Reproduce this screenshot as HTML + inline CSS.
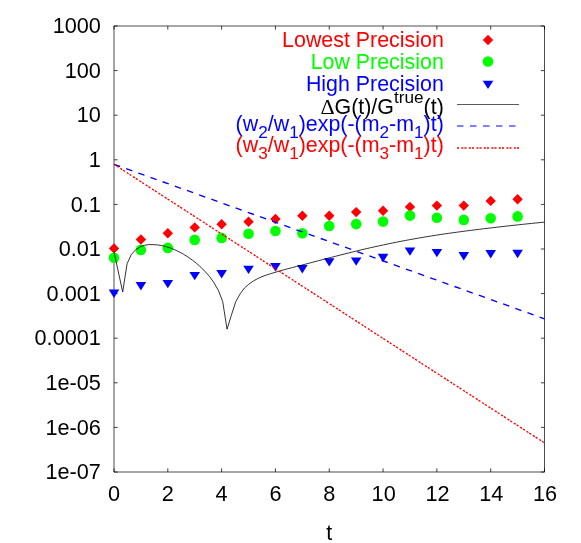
<!DOCTYPE html>
<html><head><meta charset="utf-8"><title>plot</title>
<style>
html,body{margin:0;padding:0;background:#fff;}
body{width:581px;height:543px;overflow:hidden;}
svg{display:block;will-change:transform;}
text{font-family:"Liberation Sans",sans-serif;font-size:21.4px;}
.sub{font-size:17.2px;}
.tk{font-size:21.7px;}
.sym{font-family:"Liberation Serif",serif;}
</style></head><body>
<svg width="581" height="543" viewBox="0 0 581 543">
<rect x="0" y="0" width="581" height="543" fill="#ffffff"/>

<g stroke="#000" stroke-width="0.75" fill="none">
<path d="M114.0 26.00h3.6M544.5 26.00h-3.6"/>
<path d="M114.0 70.60h3.6M544.5 70.60h-3.6"/>
<path d="M114.0 115.20h3.6M544.5 115.20h-3.6"/>
<path d="M114.0 159.80h3.6M544.5 159.80h-3.6"/>
<path d="M114.0 204.40h3.6M544.5 204.40h-3.6"/>
<path d="M114.0 249.00h3.6M544.5 249.00h-3.6"/>
<path d="M114.0 293.60h3.6M544.5 293.60h-3.6"/>
<path d="M114.0 338.20h3.6M544.5 338.20h-3.6"/>
<path d="M114.0 382.80h3.6M544.5 382.80h-3.6"/>
<path d="M114.0 427.40h3.6M544.5 427.40h-3.6"/>
<path d="M114.0 472.00h3.6M544.5 472.00h-3.6"/>
<path d="M114.00 472.0v-3.6M114.00 26.0v3.6"/>
<path d="M167.81 472.0v-3.6M167.81 26.0v3.6"/>
<path d="M221.62 472.0v-3.6M221.62 26.0v3.6"/>
<path d="M275.44 472.0v-3.6M275.44 26.0v3.6"/>
<path d="M329.25 472.0v-3.6M329.25 26.0v3.6"/>
<path d="M383.06 472.0v-3.6M383.06 26.0v3.6"/>
<path d="M436.88 472.0v-3.6M436.88 26.0v3.6"/>
<path d="M490.69 472.0v-3.6M490.69 26.0v3.6"/>
<path d="M544.50 472.0v-3.6M544.50 26.0v3.6"/>
</g>
<g stroke="#000" stroke-width="0.7" fill="none"><path d="M114.0 26.0H544.5V472.0H114.0Z"/></g>
<text x="100.9" y="33.10" text-anchor="end" class="tk">1000</text>
<text x="100.9" y="77.70" text-anchor="end" class="tk">100</text>
<text x="100.9" y="122.30" text-anchor="end" class="tk">10</text>
<text x="100.9" y="166.90" text-anchor="end" class="tk">1</text>
<text x="100.9" y="211.50" text-anchor="end" class="tk">0.1</text>
<text x="100.9" y="256.10" text-anchor="end" class="tk">0.01</text>
<text x="100.9" y="300.70" text-anchor="end" class="tk">0.001</text>
<text x="100.9" y="345.30" text-anchor="end" class="tk">0.0001</text>
<text x="100.9" y="389.90" text-anchor="end" class="tk">1e-05</text>
<text x="100.9" y="434.50" text-anchor="end" class="tk">1e-06</text>
<text x="100.9" y="479.10" text-anchor="end" class="tk">1e-07</text>
<text x="114.00" y="500.7" text-anchor="middle" class="tk">0</text>
<text x="167.81" y="500.7" text-anchor="middle" class="tk">2</text>
<text x="221.62" y="500.7" text-anchor="middle" class="tk">4</text>
<text x="275.44" y="500.7" text-anchor="middle" class="tk">6</text>
<text x="329.25" y="500.7" text-anchor="middle" class="tk">8</text>
<text x="383.66" y="500.7" text-anchor="middle" class="tk">10</text>
<text x="437.48" y="500.7" text-anchor="middle" class="tk">12</text>
<text x="491.29" y="500.7" text-anchor="middle" class="tk">14</text>
<text x="545.10" y="500.7" text-anchor="middle" class="tk">16</text>
<text x="329.2" y="539.8" text-anchor="middle">t</text>
<path d="M114.00 243.20L119.20 248.40L114.00 253.60L108.80 248.40Z" fill="#ff0000"/>
<path d="M140.91 234.30L146.11 239.50L140.91 244.70L135.71 239.50Z" fill="#ff0000"/>
<path d="M167.81 228.10L173.01 233.30L167.81 238.50L162.61 233.30Z" fill="#ff0000"/>
<path d="M194.72 222.20L199.92 227.40L194.72 232.60L189.52 227.40Z" fill="#ff0000"/>
<path d="M221.62 219.00L226.82 224.20L221.62 229.40L216.43 224.20Z" fill="#ff0000"/>
<path d="M248.53 216.60L253.73 221.80L248.53 227.00L243.33 221.80Z" fill="#ff0000"/>
<path d="M275.44 213.80L280.64 219.00L275.44 224.20L270.24 219.00Z" fill="#ff0000"/>
<path d="M302.34 210.50L307.54 215.70L302.34 220.90L297.14 215.70Z" fill="#ff0000"/>
<path d="M329.25 210.50L334.45 215.70L329.25 220.90L324.05 215.70Z" fill="#ff0000"/>
<path d="M356.16 206.90L361.36 212.10L356.16 217.30L350.96 212.10Z" fill="#ff0000"/>
<path d="M383.06 205.60L388.26 210.80L383.06 216.00L377.86 210.80Z" fill="#ff0000"/>
<path d="M409.97 201.70L415.17 206.90L409.97 212.10L404.77 206.90Z" fill="#ff0000"/>
<path d="M436.88 200.40L442.07 205.60L436.88 210.80L431.68 205.60Z" fill="#ff0000"/>
<path d="M463.78 200.40L468.98 205.60L463.78 210.80L458.58 205.60Z" fill="#ff0000"/>
<path d="M490.69 195.70L495.89 200.90L490.69 206.10L485.49 200.90Z" fill="#ff0000"/>
<path d="M517.59 194.00L522.79 199.20L517.59 204.40L512.39 199.20Z" fill="#ff0000"/>
<circle cx="114.00" cy="257.70" r="5.3" fill="#00ff00"/>
<circle cx="140.91" cy="249.90" r="5.3" fill="#00ff00"/>
<circle cx="167.81" cy="247.90" r="5.3" fill="#00ff00"/>
<circle cx="194.72" cy="239.90" r="5.3" fill="#00ff00"/>
<circle cx="221.62" cy="237.90" r="5.3" fill="#00ff00"/>
<circle cx="248.53" cy="233.70" r="5.3" fill="#00ff00"/>
<circle cx="275.44" cy="231.00" r="5.3" fill="#00ff00"/>
<circle cx="302.34" cy="233.20" r="5.3" fill="#00ff00"/>
<circle cx="329.25" cy="226.00" r="5.3" fill="#00ff00"/>
<circle cx="356.16" cy="224.10" r="5.3" fill="#00ff00"/>
<circle cx="383.06" cy="221.60" r="5.3" fill="#00ff00"/>
<circle cx="409.97" cy="215.60" r="5.3" fill="#00ff00"/>
<circle cx="436.88" cy="217.80" r="5.3" fill="#00ff00"/>
<circle cx="463.78" cy="219.90" r="5.3" fill="#00ff00"/>
<circle cx="490.69" cy="218.30" r="5.3" fill="#00ff00"/>
<circle cx="517.59" cy="216.40" r="5.3" fill="#00ff00"/>
<path d="M108.70 289.50H119.30L114.00 297.90Z" fill="#0000ff"/>
<path d="M135.61 282.00H146.21L140.91 290.40Z" fill="#0000ff"/>
<path d="M162.51 279.90H173.11L167.81 288.30Z" fill="#0000ff"/>
<path d="M189.42 271.90H200.02L194.72 280.30Z" fill="#0000ff"/>
<path d="M216.32 270.00H226.93L221.62 278.40Z" fill="#0000ff"/>
<path d="M243.23 265.70H253.83L248.53 274.10Z" fill="#0000ff"/>
<path d="M270.14 263.10H280.74L275.44 271.50Z" fill="#0000ff"/>
<path d="M297.04 265.10H307.64L302.34 273.50Z" fill="#0000ff"/>
<path d="M323.95 258.20H334.55L329.25 266.60Z" fill="#0000ff"/>
<path d="M350.86 257.40H361.46L356.16 265.80Z" fill="#0000ff"/>
<path d="M377.76 253.80H388.36L383.06 262.20Z" fill="#0000ff"/>
<path d="M404.67 247.45H415.27L409.97 255.85Z" fill="#0000ff"/>
<path d="M431.57 248.90H442.18L436.88 257.30Z" fill="#0000ff"/>
<path d="M458.48 252.10H469.08L463.78 260.50Z" fill="#0000ff"/>
<path d="M485.39 250.10H495.99L490.69 258.50Z" fill="#0000ff"/>
<path d="M512.29 249.80H522.89L517.59 258.20Z" fill="#0000ff"/>
<path d="M114.00 251.90 L118.35 272.00 L122.70 291.90 L127.05 263.80 L131.39 254.40 L135.74 249.70 L140.09 246.90 L144.44 245.30 L148.79 244.60 L153.14 244.65 L157.48 244.91 L161.83 245.58 L166.18 246.64 L170.53 248.06 L174.88 249.82 L179.23 251.90 L183.58 254.27 L187.92 256.97 L192.27 260.02 L196.62 263.45 L200.97 267.30 L205.32 271.80 L209.67 276.60 L214.02 282.90 L218.36 290.30 L222.71 301.70 L227.06 329.20 L231.41 315.10 L235.76 301.70 L240.11 293.90 L244.45 288.00 L248.80 284.20 L253.15 281.10 L257.50 278.70 L261.85 276.73 L266.20 275.13 L270.55 273.72 L274.89 272.40 L279.24 271.13 L283.59 269.92 L287.94 268.74 L292.29 267.59 L296.64 266.45 L300.98 265.33 L305.33 264.19 L309.68 263.05 L314.03 261.89 L318.38 260.73 L322.73 259.59 L327.08 258.46 L331.42 257.34 L335.77 256.21 L340.12 255.10 L344.47 253.99 L348.82 252.90 L353.17 251.82 L357.52 250.75 L361.86 249.71 L366.21 248.70 L370.56 247.71 L374.91 246.75 L379.26 245.81 L383.61 244.87 L387.95 243.94 L392.30 243.03 L396.65 242.16 L401.00 241.30 L405.35 240.47 L409.70 239.66 L414.05 238.88 L418.39 238.12 L422.74 237.37 L427.09 236.65 L431.44 235.95 L435.79 235.26 L440.14 234.60 L444.48 233.95 L448.83 233.32 L453.18 232.70 L457.53 232.11 L461.88 231.52 L466.23 230.95 L470.58 230.40 L474.92 229.85 L479.27 229.32 L483.62 228.79 L487.97 228.26 L492.32 227.74 L496.67 227.23 L501.02 226.73 L505.36 226.24 L509.71 225.76 L514.06 225.28 L518.41 224.82 L522.76 224.35 L527.11 223.89 L531.45 223.44 L535.80 222.99 L540.15 222.54 L544.50 222.10" fill="none" stroke="#000" stroke-width="0.8" stroke-linejoin="round"/>
<path d="M114.0 164.3L544.5 318.8" fill="none" stroke="#0000ff" stroke-width="1.35" stroke-dasharray="6.5 6.42"/>
<path d="M114.0 164.3L544.5 442.9" fill="none" stroke="#ff0000" stroke-width="1.35" stroke-dasharray="2.2 1.1 2.2 2.06"/>
<text x="443.8" y="47.4" text-anchor="end" fill="#ff0000">Lowest Precision</text>
<text x="443.8" y="69.0" text-anchor="end" fill="#00ff00">Low Precision</text>
<text x="443.8" y="90.7" text-anchor="end" fill="#0000ff">High Precision</text>
<text x="443.8" y="113.9" text-anchor="end" fill="#000"><tspan class="sym" font-size="22">Δ</tspan>G(t)/G<tspan class="sub" dy="-10.5">true</tspan><tspan dy="10.5">(t)</tspan></text>
<text x="443.8" y="131.3" text-anchor="end" fill="#0000ff">(w<tspan class="sub" dy="6.8">2</tspan><tspan dy="-6.8">/w</tspan><tspan class="sub" dy="6.8">1</tspan><tspan dy="-6.8">)exp(-(m</tspan><tspan class="sub" dy="6.8">2</tspan><tspan dy="-6.8">-m</tspan><tspan class="sub" dy="6.8">1</tspan><tspan dy="-6.8">)t)</tspan></text>
<text x="443.8" y="152.2" text-anchor="end" fill="#ff0000">(w<tspan class="sub" dy="6.8">3</tspan><tspan dy="-6.8">/w</tspan><tspan class="sub" dy="6.8">1</tspan><tspan dy="-6.8">)exp(-(m</tspan><tspan class="sub" dy="6.8">3</tspan><tspan dy="-6.8">-m</tspan><tspan class="sub" dy="6.8">1</tspan><tspan dy="-6.8">)t)</tspan></text>
<path d="M488.00 34.80L493.20 40.00L488.00 45.20L482.80 40.00Z" fill="#ff0000"/>
<circle cx="488.00" cy="61.50" r="5.3" fill="#00ff00"/>
<path d="M482.70 80.70H493.30L488.00 89.10Z" fill="#0000ff"/>
<path d="M457 104.5H519" stroke="#000" stroke-width="0.65" fill="none"/>
<path d="M457 126.0H519" stroke="#0000ff" stroke-width="1.15" stroke-dasharray="6.5 6.5" fill="none"/>
<path d="M457 148H519" stroke="#ff0000" stroke-width="1.3" stroke-dasharray="2 1.1 2 2.4" stroke-dashoffset="3.1" fill="none"/>
</svg></body></html>
